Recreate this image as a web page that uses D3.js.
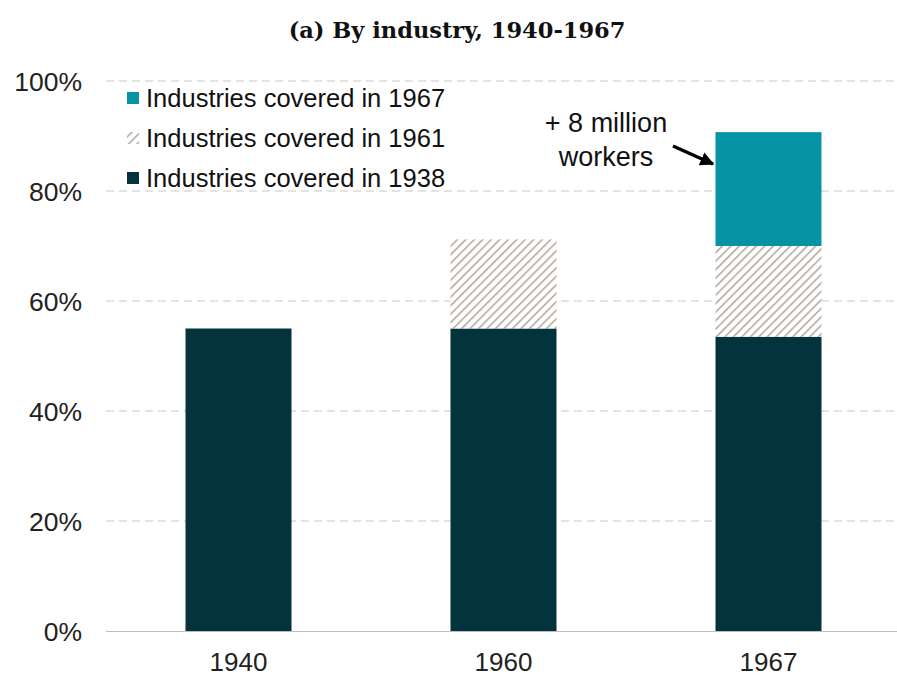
<!DOCTYPE html>
<html><head><meta charset="utf-8">
<script src="https://cdn.jsdelivr.net/npm/d3@7"></script>
<style>body{margin:0;background:#fff}</style>
</head><body>
<svg id="c" width="897" height="677"></svg>
<script>
const categories = ["1940","1960","1967"];
const covered1938 = [55, 55, 53.5];
const covered1961 = [0, 16.2, 16.5];
const covered1967 = [0, 0, 20.7];
const yTicks = [0,20,40,60,80,100];
const seriesNames = ["Industries covered in 1938","Industries covered in 1961","Industries covered in 1967"];

const svg = d3.select("#c");
const defs = svg.append("defs");
const pat = defs.append("pattern").attr("id","hatch").attr("patternUnits","userSpaceOnUse")
  .attr("width",6).attr("height",6).attr("patternTransform","rotate(45)");
pat.append("rect").attr("width",6).attr("height",6).attr("fill","#fff");
pat.append("line").attr("x1",0).attr("y1",0).attr("x2",0).attr("y2",6)
  .attr("stroke","#A89F95").attr("stroke-width",2.8);

const x = d3.scaleBand().domain(categories).range([106,901]).paddingInner(0.6).paddingOuter(0.3);
const y = d3.scaleLinear().domain([0,100]).range([631,81]);
const sans = "Liberation Sans, Arial, sans-serif";

// gridlines
svg.append("g").selectAll("line").data(yTicks.filter(d=>d>0)).join("line")
  .attr("x1",106).attr("x2",897).attr("y1",d=>y(d)).attr("y2",d=>y(d))
  .attr("stroke","#C8C8C8").attr("stroke-width",1).attr("stroke-dasharray","8,5");

const data = categories.map((c,i)=>({cat:c, a:covered1938[i], b:covered1961[i], c:covered1967[i]}));
const stack = d3.stack().keys(["a","b","c"])(data);
const fills = {a:"#04333D", b:"url(#hatch)", c:"#0693A3"};
svg.append("g").selectAll("g").data(stack).join("g")
  .attr("fill",d=>fills[d.key])
  .selectAll("rect").data(d=>d.filter(p=>p[1]-p[0]>0)).join("rect")
  .attr("x",d=>x(d.data.cat)).attr("width",x.bandwidth())
  .attr("y",d=>y(d[1])).attr("height",d=>y(d[0])-y(d[1]));

// axis line
svg.append("line").attr("x1",106).attr("x2",897).attr("y1",y(0)+0.5).attr("y2",y(0)+0.5)
  .attr("stroke","#BFBFBF").attr("stroke-width",1);

// y labels
const yAxis = d3.axisLeft(y).tickValues(yTicks).tickFormat(d=>d+"%").tickSize(0).tickPadding(0);
const ya = svg.append("g").attr("transform","translate(82,0)").call(yAxis);
ya.select(".domain").remove();
ya.selectAll("text").attr("font-family",sans).attr("font-size",26.5).attr("fill","#222").attr("dy","0.36em");

// x labels
const xAxis = d3.axisBottom(x).tickSize(0).tickPadding(0);
const xa = svg.append("g").attr("transform","translate(0,671)").call(xAxis);
xa.select(".domain").remove();
xa.selectAll("text").attr("font-family",sans).attr("font-size",26).attr("fill","#222").attr("dy",0).attr("y",0);

// title
svg.append("text").attr("x",457).attr("y",38).attr("text-anchor","middle")
  .attr("font-family","DejaVu Serif, Liberation Serif, serif").attr("font-weight","bold")
  .attr("font-size",22.5).attr("fill","#111").text("(a) By industry, 1940-1967");

// legend
const legItems = [
  {name:seriesNames[2], fill:fills.c},
  {name:seriesNames[1], fill:"url(#hatch)"},
  {name:seriesNames[0], fill:fills.a}
];
const lg = svg.append("g");
legItems.forEach((d,i)=>{
  const cy = 98 + i*40;
  lg.append("rect").attr("x",127).attr("y",cy-6).attr("width",12).attr("height",12).attr("fill",d.fill);
  lg.append("text").attr("x",146).attr("y",cy).attr("dy","0.36em")
    .attr("font-family",sans).attr("font-size",25.5).attr("fill","#111").text(d.name);
});

// annotation
const ann = svg.append("g").attr("font-family",sans).attr("font-size",27).attr("fill","#111").attr("text-anchor","middle");
ann.append("text").attr("x",606).attr("y",132).text("+ 8 million");
ann.append("text").attr("x",606).attr("y",166).text("workers");
defs.append("marker").attr("id","arr").attr("viewBox","0 0 10 10").attr("refX",9).attr("refY",5)
  .attr("markerWidth",4).attr("markerHeight",4).attr("orient","auto")
  .append("path").attr("d","M0,0L10,5L0,10z").attr("fill","#000");
svg.append("line").attr("x1",673).attr("y1",146).attr("x2",713).attr("y2",164)
  .attr("stroke","#000").attr("stroke-width",3.5).attr("marker-end","url(#arr)");
</script>
</body></html>
